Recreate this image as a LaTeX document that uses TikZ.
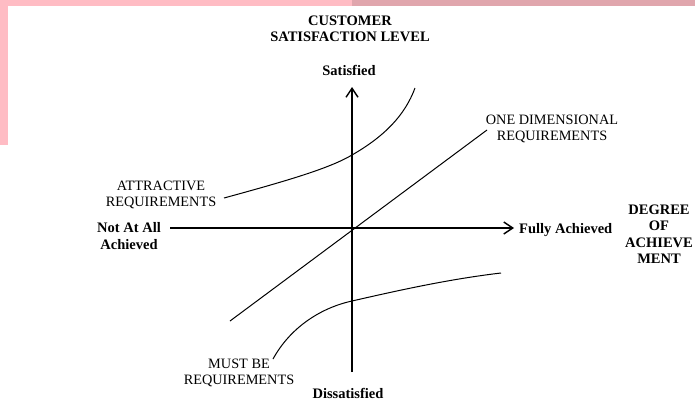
\documentclass[tikz,border=0pt]{standalone}
\usepackage{fontspec}
\setmainfont{Liberation Serif}
\usetikzlibrary{arrows.meta}
\definecolor{pinkA}{HTML}{FFBCC4}
\definecolor{pinkB}{HTML}{E0A6AD}
\begin{document}
\begin{tikzpicture}[x=1pt,y=-1pt,
  axis/.style={line width=1.5pt,-{Straight Barb[length=9pt,width=12pt,line width=1.4pt]}},
  curve/.style={line width=1pt},
  lab/.style={font=\fontsize{14.3}{15.5}\selectfont,align=center,inner sep=0pt},
  blab/.style={font=\fontsize{14.5}{16.5}\selectfont\bfseries,align=center,inner sep=0pt}]
\useasboundingbox (0,0) rectangle (695,402);
\fill[white] (0,0) rectangle (695,402);
% decorative strips
\fill[pinkA] (0,0) rectangle (352,6);
\fill[pinkB] (352,0) rectangle (695,6);
\fill[pinkA] (0,0) rectangle (8,145);
% nodes
\coordinate (O) at (352,228);
\coordinate (ybot) at (352,372);
\coordinate (ytop) at (352,87);
\coordinate (xleft) at (170,228);
\coordinate (xright) at (514,228);
\node[blab] (title) at (350,29) {CUSTOMER\\SATISFACTION LEVEL};
\node[blab,anchor=base] (sat) at (349,75) {Satisfied};
\node[blab,anchor=base] (dis) at (348,398) {Dissatisfied};
\node[blab,anchor=base west] (full) at (519,233) {Fully Achieved};
\node[blab] (notall) at (129,236) {Not At All\\Achieved};
\node[blab] (degree) at (659,234) {DEGREE\\OF\\ACHIEVE\\MENT};
\node[lab] (onedim) at (552,129) {ONE DIMENSIONAL\\REQUIREMENTS};
\node[lab] (attr) at (161,195) {ATTRACTIVE\\REQUIREMENTS};
\node[lab] (must) at (239,373) {MUST BE\\REQUIREMENTS};
% axes
\draw[axis] (ybot) -- (ytop);
\draw[axis] (xleft) -- (xright);
% one-dimensional line
\coordinate (od1) at (230,321);
\coordinate (od2) at (487,130);
\draw[curve] (od1) -- (od2);
% attractive curve
\coordinate (a1) at (224,198);
\coordinate (a2) at (352,155);
\coordinate (a3) at (415,88);
\draw[curve] (a1) .. controls (290,180) and (330,168) .. (a2)
  .. controls (385,136) and (405,115) .. (a3);
% must-be curve
\coordinate (m1) at (273,359);
\coordinate (m2) at (352,301);
\coordinate (m3) at (501,273);
\draw[curve] (m1) .. controls (290,328) and (320,308) .. (m2)
  .. controls (400,290) and (450,279) .. (m3);
\end{tikzpicture}
\end{document}
